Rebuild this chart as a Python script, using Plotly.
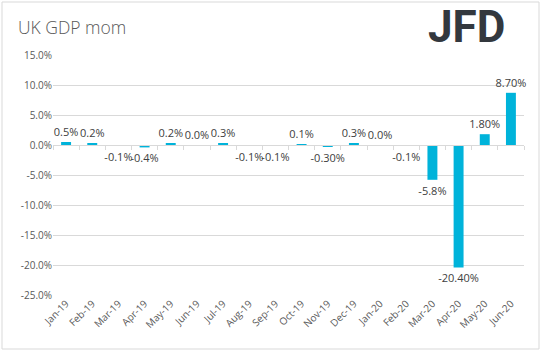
import plotly.graph_objects as go

months = ["Jan-19", "Feb-19", "Mar-19", "Apr-19", "May-19", "Jun-19", "Jul-19", "Aug-19", "Sep-19",
          "Oct-19", "Nov-19", "Dec-19", "Jan-20", "Feb-20", "Mar-20", "Apr-20", "May-20", "Jun-20"]
gdp_mom = [0.5, 0.2, -0.1, -0.4, 0.2, 0.0, 0.3, -0.1, -0.1, 0.1, -0.30, 0.3, 0.0, -0.1, -5.8, -20.40, 1.80, 8.70]
value_labels = ["0.5%", "0.2%", "-0.1%", "-0.4%", "0.2%", "0.0%", "0.3%", "-0.1%", "-0.1%", "0.1%", "-0.30%",
                "0.3%", "0.0%", "-0.1%", "-5.8%", "-20.40%", "1.80%", "8.70%"]
y_ticks = [15, 10, 5, 0, -5, -10, -15, -20, -25]
y_tick_labels = ["15.0%", "10.0%", "5.0%", "0.0%", "-5.0%", "-10.0%", "-15.0%", "-20.0%", "-25.0%"]

GRID = "#d9d9d9"
TXT = "#595959"
FONT = "Open Sans"

fig = go.Figure()
fig.add_trace(go.Bar(
    x=months, y=gdp_mom, text=value_labels, textposition="outside",
    textfont=dict(family=FONT, size=11, color="#404040"),
    marker=dict(color="#00b3da", line=dict(width=0)),
    cliponaxis=False, constraintext="none", hoverinfo="skip", showlegend=False,
))
# helper (invisible) trace for the category axis drawn along zero
fig.add_trace(go.Scatter(
    x=months, y=[0] * len(months), xaxis="x2", mode="markers",
    marker=dict(opacity=0), hoverinfo="skip", showlegend=False,
))

W, H = 543, 351
L, R, T, B = 53, 19, 55, 56
pw, ph = W - L - R, H - T - B

def px2paper_x(px):
    return (px - L) / pw

def py2paper_y(py):
    return (H - B - py) / ph

fig.update_layout(
    width=W, height=H,
    margin=dict(l=L, r=R, t=T, b=B),
    paper_bgcolor="white", plot_bgcolor="white",
    bargap=0.62,
    font=dict(family=FONT, color=TXT),
    xaxis=dict(
        type="category", showgrid=False, showline=False, ticks="",
        tickangle=-45, tickfont=dict(family=FONT, size=10, color=TXT),
        range=[-0.5, len(months) - 0.5],
    ),
    xaxis2=dict(
        type="category", overlaying="x", anchor="free", position=0.625,
        range=[-0.5, len(months) - 0.5],
        showline=True, linecolor=GRID, linewidth=1,
        ticks="outside", ticklen=4, tickcolor=GRID, tickson="boundaries",
        showticklabels=False, showgrid=False, side="bottom",
    ),
    yaxis=dict(
        range=[-25, 15], tickvals=y_ticks, ticktext=y_tick_labels,
        showgrid=True, gridcolor=GRID, gridwidth=1,
        zeroline=False, showline=False, ticks="",
        tickfont=dict(family=FONT, size=10, color=TXT),
    ),
    shapes=[dict(
        type="rect", xref="paper", yref="paper",
        x0=px2paper_x(2), x1=px2paper_x(539), y0=py2paper_y(349), y1=py2paper_y(2),
        line=dict(color=GRID, width=1), fillcolor="rgba(0,0,0,0)", layer="below",
    )],
    annotations=[
        dict(text="UK GDP mom", xref="paper", yref="paper",
             x=px2paper_x(16), y=py2paper_y(27), xanchor="left", yanchor="middle",
             showarrow=False, font=dict(family=FONT, size=17.5, color=TXT, weight=300)),
        dict(text="<b>JFD</b>", xref="paper", yref="paper",
             x=px2paper_x(507), y=py2paper_y(27), xanchor="right", yanchor="middle",
             showarrow=False, font=dict(family="Roboto", size=44, color="#33383e")),
    ],
)

fig.write_html("out.html")
